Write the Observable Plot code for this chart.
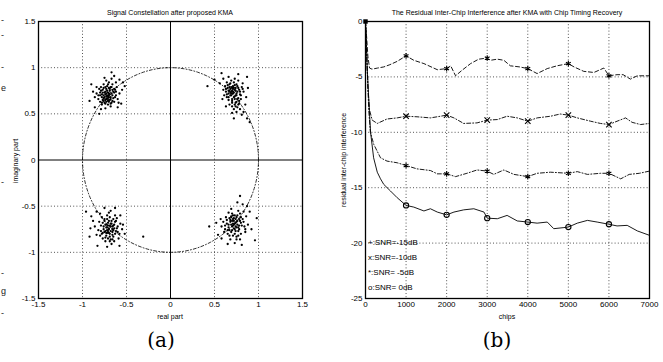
<!DOCTYPE html>
<html>
<head>
<meta charset="utf-8">
<script src="https://cdn.jsdelivr.net/npm/d3@7"></script>
<script src="https://cdn.jsdelivr.net/npm/@observablehq/plot@0.6"></script>
<style>
  html, body { margin: 0; padding: 0; background: #fff; }
  #wrap { position: relative; width: 663px; height: 362px; overflow: hidden; background: #fff; font-family: "Liberation Sans", Arial, sans-serif; color: #000; }
  .abs { position: absolute; white-space: nowrap; line-height: 1; }
  .t { font-size: 7px; transform: translate(-50%, -50%); }
  .rot { font-size: 7px; transform: translate(-50%, -50%) rotate(-90deg); }
  .cap { font-family: "DejaVu Serif", "Liberation Serif", serif; font-size: 20px; transform: translate(-50%, -50%); }
  .leg { font-family: "Liberation Sans Narrow", "Liberation Sans", Arial, sans-serif; font-size: 8px; transform: translate(0, -50%); }
  .frag { font-size: 9px; transform: translate(0, -50%); color: #222; }
  #pa, #pb { position: absolute; top: 0; }
  #pa { left: 0; }
  #pb { left: 330px; }
</style>
</head>
<body>
<div id="wrap">
  <div id="pa"></div>
  <div id="pb"></div>
</div>
<script>
// ---------- Panel (a) data: constellation points ----------
const clusterNW = [[-0.72,0.70],[-0.70,0.72],[-0.75,0.68],[-0.68,0.66],[-0.74,0.74],[-0.78,0.71],[-0.66,0.70],[-0.71,0.64],[-0.73,0.77],[-0.69,0.75],[-0.77,0.65],[-0.80,0.70],[-0.64,0.73],[-0.67,0.62],[-0.76,0.78],[-0.70,0.68],[-0.73,0.66],[-0.79,0.75],[-0.65,0.67],[-0.72,0.80],[-0.82,0.66],[-0.62,0.70],[-0.68,0.79],[-0.75,0.62],[-0.71,0.60],[-0.84,0.72],[-0.63,0.76],[-0.78,0.60],[-0.66,0.82],[-0.60,0.66],[-0.74,0.71],[-0.69,0.71],[-0.77,0.73],[-0.71,0.73],[-0.73,0.63],[-0.81,0.77],[-0.61,0.79],[-0.64,0.63],[-0.70,0.84],[-0.86,0.68],[-0.58,0.72],[-0.76,0.82],[-0.68,0.58],[-0.80,0.63],[-0.59,0.62],[-0.62,0.84],[-0.73,0.86],[-0.84,0.79],[-0.55,0.76],[-0.67,0.88],[-0.75,0.89],[-0.58,0.87],[-0.54,0.84],[-0.90,0.82],[-0.92,0.64],[-0.86,0.57],[-0.81,0.50],[-0.56,0.61],[-0.67,0.95],[-0.52,0.80],[-0.88,0.74],[-0.64,0.91],[-0.79,0.55],[-0.60,0.57],[-0.74,0.56],[-0.71,0.69],[-0.76,0.70],[-0.69,0.65],[-0.74,0.79],[-0.66,0.76],
  [-0.70,0.70],[-0.73,0.72],[-0.76,0.67],[-0.68,0.68],[-0.72,0.75],[-0.75,0.73],[-0.67,0.72],[-0.70,0.63],[-0.74,0.65],[-0.78,0.68],[-0.65,0.74],[-0.69,0.77],[-0.72,0.67],[-0.77,0.76],[-0.63,0.68],[-0.80,0.73],[-0.71,0.82],[-0.66,0.64],[-0.74,0.61],[-0.79,0.79],[-0.62,0.74],[-0.68,0.61],[-0.82,0.70],[-0.70,0.78],[-0.76,0.64],[-0.73,0.69],[-0.67,0.79],[-0.78,0.62],[-0.64,0.77],[-0.71,0.66]];
const clusterNE = [[0.70,0.75],[0.72,0.73],[0.68,0.77],[0.74,0.78],[0.66,0.72],[0.71,0.80],[0.76,0.74],[0.69,0.70],[0.73,0.69],[0.65,0.78],[0.78,0.76],[0.67,0.82],[0.75,0.82],[0.63,0.74],[0.70,0.66],[0.79,0.71],[0.72,0.84],[0.64,0.68],[0.77,0.67],[0.68,0.73],[0.74,0.75],[0.71,0.77],[0.62,0.80],[0.81,0.79],[0.66,0.65],[0.75,0.63],[0.69,0.86],[0.80,0.66],[0.61,0.70],[0.73,0.60],[0.77,0.86],[0.64,0.84],[0.83,0.74],[0.70,0.62],[0.60,0.76],[0.78,0.61],[0.67,0.60],[0.82,0.83],[0.73,0.88],[0.59,0.66],[0.76,0.57],[0.79,0.55],[0.72,0.55],[0.83,0.52],[0.75,0.52],[0.81,0.49],[0.87,0.45],[0.90,0.41],[0.72,0.45],[0.85,0.60],[0.86,0.68],[0.58,0.94],[0.77,0.93],[0.87,0.90],[0.60,0.88],[0.42,0.80],[0.50,0.87],[0.56,0.83],[0.88,0.78],[0.66,0.90],[0.70,0.51],[0.63,0.58],[0.71,0.72],[0.67,0.75],[0.75,0.70],[0.69,0.79],[0.73,0.66],
  [0.71,0.74],[0.69,0.72],[0.73,0.76],[0.67,0.79],[0.75,0.72],[0.70,0.78],[0.74,0.70],[0.66,0.75],[0.77,0.78],[0.72,0.68],[0.68,0.70],[0.79,0.74],[0.65,0.81],[0.73,0.81],[0.76,0.66],[0.70,0.64],[0.63,0.77],[0.80,0.70],[0.68,0.83],[0.74,0.62],[0.78,0.64],[0.72,0.78],[0.66,0.68],[0.76,0.80],[0.70,0.58],[0.74,0.58],[0.77,0.60],[0.69,0.74],[0.82,0.77],[0.64,0.71]];
const clusterSW = [[-0.70,-0.74],[-0.68,-0.72],[-0.72,-0.76],[-0.66,-0.78],[-0.74,-0.70],[-0.69,-0.80],[-0.64,-0.74],[-0.76,-0.75],[-0.71,-0.68],[-0.67,-0.69],[-0.73,-0.82],[-0.62,-0.77],[-0.78,-0.80],[-0.65,-0.83],[-0.70,-0.66],[-0.60,-0.72],[-0.75,-0.64],[-0.79,-0.71],[-0.68,-0.86],[-0.63,-0.67],[-0.71,-0.77],[-0.66,-0.75],[-0.73,-0.73],[-0.58,-0.80],[-0.77,-0.85],[-0.61,-0.63],[-0.82,-0.76],[-0.69,-0.62],[-0.57,-0.69],[-0.64,-0.88],[-0.74,-0.88],[-0.81,-0.67],[-0.59,-0.85],[-0.72,-0.60],[-0.84,-0.81],[-0.63,-0.60],[-0.78,-0.62],[-0.55,-0.75],[-0.67,-0.91],[-0.86,-0.72],[-0.54,-0.70],[-0.80,-0.58],[-0.75,-0.52],[-0.63,-0.52],[-0.96,-0.56],[-0.90,-0.61],[-0.92,-0.83],[-0.83,-0.93],[-0.31,-0.83],[-0.88,-0.66],[-0.68,-0.55],[-0.58,-0.93],[-0.84,-0.56],[-0.52,-0.80],[-0.72,-0.94],[-0.91,-0.74],[-0.57,-0.60],[-0.70,-0.57],[-0.69,-0.71],[-0.72,-0.79],[-0.66,-0.81],[-0.75,-0.78],[-0.65,-0.71],
  [-0.70,-0.75],[-0.72,-0.73],[-0.68,-0.77],[-0.66,-0.72],[-0.74,-0.77],[-0.71,-0.71],[-0.69,-0.83],[-0.65,-0.76],[-0.76,-0.72],[-0.73,-0.79],[-0.67,-0.66],[-0.63,-0.80],[-0.77,-0.68],[-0.71,-0.85],[-0.61,-0.74],[-0.79,-0.77],[-0.68,-0.69],[-0.74,-0.84],[-0.64,-0.70],[-0.70,-0.79],[-0.66,-0.86],[-0.75,-0.66],[-0.60,-0.78],[-0.80,-0.82],[-0.72,-0.64],[-0.62,-0.66],[-0.69,-0.88],[-0.77,-0.79],[-0.65,-0.64],[-0.73,-0.70]];
const clusterSE = [[0.72,-0.70],[0.74,-0.68],[0.70,-0.72],[0.76,-0.66],[0.68,-0.67],[0.73,-0.75],[0.78,-0.71],[0.71,-0.64],[0.66,-0.73],[0.75,-0.62],[0.80,-0.68],[0.69,-0.78],[0.64,-0.69],[0.77,-0.77],[0.73,-0.60],[0.82,-0.64],[0.67,-0.63],[0.62,-0.75],[0.79,-0.58],[0.71,-0.82],[0.84,-0.72],[0.60,-0.67],[0.75,-0.83],[0.65,-0.80],[0.70,-0.58],[0.86,-0.61],[0.63,-0.62],[0.80,-0.80],[0.58,-0.72],[0.77,-0.55],[0.68,-0.86],[0.74,-0.72],[0.72,-0.66],[0.83,-0.56],[0.61,-0.78],[0.88,-0.70],[0.66,-0.57],[0.57,-0.64],[0.79,-0.86],[0.85,-0.78],[0.79,-0.39],[0.87,-0.50],[0.98,-0.63],[0.96,-0.87],[0.54,-0.81],[0.65,-0.91],[0.44,-0.72],[0.82,-0.48],[0.76,-0.46],[0.90,-0.56],[0.58,-0.85],[0.92,-0.75],[0.52,-0.68],[0.73,-0.90],[0.81,-0.92],[0.69,-0.53],[0.71,-0.69],[0.75,-0.73],[0.69,-0.62],[0.78,-0.64],[0.67,-0.76],
  [0.73,-0.69],[0.71,-0.71],[0.75,-0.67],[0.69,-0.70],[0.77,-0.73],[0.72,-0.63],[0.74,-0.77],[0.68,-0.65],[0.79,-0.66],[0.70,-0.76],[0.66,-0.70],[0.76,-0.60],[0.81,-0.71],[0.73,-0.80],[0.65,-0.76],[0.78,-0.75],[0.71,-0.60],[0.83,-0.67],[0.67,-0.82],[0.80,-0.62],[0.62,-0.71],[0.75,-0.86],[0.69,-0.61],[0.85,-0.75],[0.64,-0.65],[0.77,-0.82],[0.72,-0.74],[0.74,-0.64],[0.70,-0.66],[0.76,-0.70]];
// unit-circle reference curve, sampled by angle (degrees)
const circleAngles = d3.range(0, 361, 3);
const aTicks = [-1.5, -1, -0.5, 0, 0.5, 1, 1.5];
const aGrid = [-1, -0.5, 0.5, 1];

// ---------- Panel (b) data: residual ICI (dB) vs chips ----------
const snrM15 = [[0,0],[30,-1.5],[60,-3.2],[100,-4.2],[160,-4.3],[300,-4.2],[450,-4.1],[600,-3.9],[780,-3.6],[1000,-3.1],[1190,-3.5],[1440,-3.8],[1770,-4.35],[2000,-4.25],[2100,-4.0],[2220,-4.9],[2380,-4.4],[2590,-3.8],[2790,-3.4],[3000,-3.3],[3080,-3.5],[3250,-3.4],[3410,-3.5],[3570,-4.0],[3800,-4.1],[4000,-4.25],[4230,-4.7],[4480,-4.25],[4720,-4.0],[5000,-3.8],[5140,-4.1],[5380,-4.5],[5630,-4.6],[5875,-4.2],[6000,-4.9],[6200,-4.8],[6350,-4.8],[6530,-5.2],[6700,-4.9],[6860,-4.9],[7000,-4.9]];
const snrM10 = [[0,0],[30,-3],[60,-6],[100,-8],[165,-8.9],[290,-9.2],[530,-8.8],[780,-8.7],[1000,-8.55],[1270,-8.6],[1600,-8.7],[1850,-8.55],[2000,-8.45],[2180,-8.7],[2420,-9.2],[2750,-9.15],[3000,-8.9],[3250,-8.85],[3490,-8.55],[3740,-8.7],[4000,-9.0],[4230,-8.7],[4560,-8.55],[4800,-8.35],[5000,-8.45],[5220,-8.7],[5550,-9.0],[5790,-9.2],[6000,-9.3],[6200,-9.0],[6410,-8.7],[6570,-9.1],[6780,-9.3],[7000,-9.2]];
const snrM5 = [[0,0],[40,-4],[80,-8],[120,-10],[205,-11.1],[370,-12.3],[530,-12.6],[780,-12.75],[1000,-13.0],[1270,-13.3],[1600,-13.45],[1770,-13.75],[2000,-13.75],[2220,-14.0],[2500,-13.7],[2750,-13.4],[3000,-13.5],[3160,-13.8],[3410,-13.4],[3660,-13.8],[4000,-14.0],[4230,-13.7],[4560,-13.6],[5000,-13.7],[5220,-13.55],[5470,-13.8],[5790,-13.7],[6000,-13.7],[6290,-14.2],[6500,-13.8],[6750,-13.7],[7000,-13.5]];
const snr0 = [[0,0],[40,-4],[80,-7],[125,-10],[200,-12.3],[290,-13.6],[370,-14.2],[450,-14.7],[616,-15.3],[780,-15.9],[1000,-16.6],[1190,-16.75],[1440,-17.1],[1600,-16.9],[1770,-17.2],[2000,-17.45],[2180,-17.2],[2420,-17.0],[2670,-16.9],[2920,-17.2],[3000,-17.75],[3250,-17.8],[3490,-17.5],[3740,-18.0],[4000,-18.1],[4230,-18.2],[4480,-18.1],[4640,-18.7],[4890,-18.6],[5000,-18.55],[5220,-18.2],[5470,-17.95],[5710,-18.1],[6000,-18.3],[6200,-18.45],[6450,-18.4],[6700,-18.9],[7000,-19.3]];
const markerChips = [1000, 2000, 3000, 4000, 5000, 6000];
const bXTicks = [0, 1000, 2000, 3000, 4000, 5000, 6000, 7000];
const bYTicks = [0, -5, -10, -15, -20, -25];
const bXGrid = [1000, 2000, 3000, 4000, 5000, 6000];
const bYGrid = [-5, -10, -15, -20];
const legendLabels = ["+:SNR=-15dB", "x:SNR=-10dB", "*:SNR= -5dB", "o:SNR= 0dB"];

// ---------- build ----------
const axisStyle = { fontFamily: "'Liberation Sans Narrow', 'Liberation Sans', Arial, sans-serif", fontSize: "8px", color: "#000", background: "transparent", overflow: "visible" };
const fmt = d => String(d);
const allPts = [...clusterNW, ...clusterNE, ...clusterSW, ...clusterSE];
const dotted = { stroke: "#000", strokeOpacity: 0.85, strokeWidth: 0.8, strokeDasharray: "1,2.2" };

const plotA = Plot.plot({
  width: 330, height: 320,
  marginLeft: 38, marginRight: 28, marginTop: 21, marginBottom: 22,
  style: axisStyle,
  x: { domain: [-1.5, 1.5] },
  y: { domain: [-1.5, 1.5] },
  marks: [
    Plot.ruleX(aGrid, dotted),
    Plot.ruleY(aGrid, dotted),
    Plot.ruleX([0], { stroke: "#000", strokeWidth: 1 }),
    Plot.ruleY([0], { stroke: "#000", strokeWidth: 1 }),
    Plot.line(circleAngles, { x: a => Math.cos(a * Math.PI / 180), y: a => Math.sin(a * Math.PI / 180), stroke: "#000", strokeWidth: 0.8, strokeDasharray: "3,2,1,2" }),
    Plot.dot(allPts, { x: d => d[0], y: d => d[1], r: 1.15, fill: "#000", stroke: "none" }),
    Plot.frame({ stroke: "#000", strokeWidth: 1.3 }),
    Plot.axisX(aTicks, { tickSize: 0, tickPadding: 3, tickFormat: fmt, label: null }),
    Plot.axisY(aTicks, { tickSize: 0, tickPadding: 3, tickFormat: fmt, label: null })
  ]
});
document.getElementById("pa").appendChild(plotA);

const series = [
  { data: snrM15, dash: "4,2.5", width: 0.9, symbol: "asterisk" },
  { data: snrM10, dash: "4,2,1,2", width: 0.9, symbol: "times" },
  { data: snrM5, dash: "4,2,1,2", width: 0.9, symbol: "asterisk" },
  { data: snr0, dash: null, width: 0.9, symbol: "circle" }
];
const marksB = [
  Plot.ruleX(bXGrid, dotted),
  Plot.ruleY(bYGrid, dotted)
];
for (const s of series) {
  marksB.push(Plot.line(s.data, { x: d => d[0], y: d => d[1], stroke: "#000", strokeWidth: s.width, strokeDasharray: s.dash || undefined }));
  marksB.push(Plot.dot(s.data.filter(d => markerChips.includes(d[0])), { x: d => d[0], y: d => d[1], symbol: () => s.symbol, r: 2.6, stroke: "#000", strokeWidth: 1.1, fill: "none" }));
}
marksB.push(Plot.dot([[0, 0]], { x: d => d[0], y: d => d[1], symbol: "square", r: 2.5, fill: "#000" }));
marksB.push(Plot.frame({ stroke: "#000", strokeWidth: 1.3 }));
marksB.push(Plot.axisX(bXTicks, { tickSize: 0, tickPadding: 3, tickFormat: fmt, label: null }));
marksB.push(Plot.axisY(bYTicks, { tickSize: 0, tickPadding: 3, tickFormat: fmt, label: null }));

const plotB = Plot.plot({
  width: 333, height: 320,
  marginLeft: 35, marginRight: 14, marginTop: 21, marginBottom: 22,
  style: axisStyle,
  x: { domain: [0, 7000] },
  y: { domain: [-25, 0] },
  symbol: { type: "identity" },
  marks: marksB
});
document.getElementById("pb").appendChild(plotB);

// ---------- text ----------
const wrap = document.getElementById("wrap");
function addText(txt, cls, x, y) {
  const el = document.createElement("div");
  el.className = "abs " + cls;
  el.textContent = txt;
  el.style.left = x + "px";
  el.style.top = y + "px";
  wrap.appendChild(el);
}
addText("Signal Constellation after proposed KMA", "t", 170, 12);
addText("real part", "t", 170, 316);
addText("imaginary part", "rot", 15, 161);
addText("(a)", "cap", 161, 340);
addText("The Residual Inter-Chip Interference after KMA with Chip Timing Recovery", "t", 507, 12);
addText("chips", "t", 507, 316);
addText("residual inter-chip interference", "rot", 343, 160);
addText("(b)", "cap", 497, 340);
legendLabels.forEach((l, i) => addText(l, "leg", 368, 243 + i * 15));
// page-edge fragments from the scanned page
[["-", 20], ["-", 35], ["-", 67], ["e", 88], ["-", 182], ["-", 273], ["g", 291], ["-", 313]].forEach(([c, y]) => addText(c, "frag", 1, y));
</script>
</body>
</html>
